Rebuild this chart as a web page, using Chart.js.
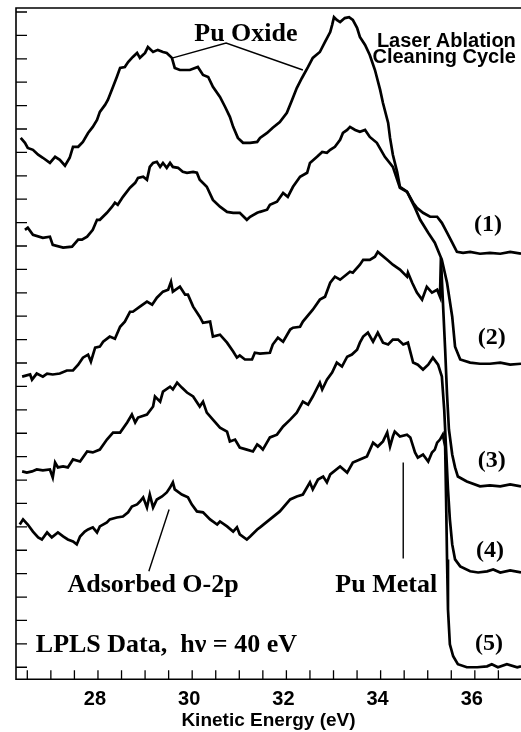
<!DOCTYPE html>
<html>
<head>
<meta charset="utf-8">
<script src="https://cdn.jsdelivr.net/npm/chart.js@4.4.1/dist/chart.umd.min.js"></script>
<style>
  html, body { margin: 0; padding: 0; background: #fff; }
</style>
</head>
<body>
<canvas id="chart" width="521" height="732"></canvas>
<script>
/* LPLS valence band spectra, Pu laser ablation cleaning cycles 1-5 */

// ── Data (kinetic energy in eV, intensity in arb. offset units) ──
const energy1 = [26.36,26.45,26.51,26.62,26.73,26.83,26.98,27.09,27.19,27.30,27.40,27.47,27.58,27.68,27.79,27.89,27.98,28.04,28.15,28.21,28.32,28.40,28.47,28.57,28.64,28.74,28.83,28.89,29.00,29.06,29.17,29.27,29.38,29.46,29.57,29.63,29.74,29.95,30.12,30.23,30.34,30.44,30.59,30.70,30.80,30.87,30.97,31.08,31.23,31.38,31.44,31.59,31.71,31.86,32.01,32.12,32.22,32.33,32.46,32.56,32.71,32.82,32.93,32.97,33.01,33.07,33.14,33.24,33.33,33.41,33.50,33.56,33.67,33.77,33.88,33.99,34.05,34.16,34.20,34.26,34.35,34.41,34.56,34.69,34.77,34.90,35.05,35.20,35.30,35.41,35.52,35.62,35.75,35.90,36.11,36.32,36.54,36.75,36.98];
const cycle1  = [22.62,22.41,22.19,22.11,21.90,21.77,21.55,21.81,21.68,21.43,21.77,22.24,22.24,22.45,22.83,23.09,23.39,23.73,24.03,24.24,24.80,25.22,25.61,25.65,25.86,26.08,26.25,26.04,26.25,26.50,26.29,26.38,26.29,26.25,26.04,25.61,25.52,25.52,25.65,25.31,25.22,24.80,24.37,23.94,23.52,23.09,22.62,22.41,22.41,22.45,22.62,22.83,23.05,23.30,23.69,24.24,24.75,25.18,25.65,26.04,26.29,26.72,27.14,27.44,27.78,27.66,27.57,27.74,27.78,27.66,27.32,26.93,26.59,26.16,25.52,24.67,24.11,23.26,22.62,21.90,21.17,20.53,20.32,19.85,19.63,19.42,19.25,19.25,18.99,18.57,18.14,17.75,17.71,17.75,17.67,17.71,17.67,17.75,17.67];

const energy2 = [26.45,26.51,26.62,26.83,26.98,27.04,27.26,27.45,27.58,27.66,27.77,27.89,27.98,28.04,28.19,28.30,28.36,28.42,28.53,28.68,28.79,28.85,28.96,29.04,29.10,29.17,29.25,29.32,29.38,29.46,29.53,29.59,29.70,29.80,29.89,30.02,30.10,30.16,30.31,30.44,30.59,30.74,30.87,31.01,31.16,31.23,31.38,31.44,31.59,31.65,31.80,31.93,32.03,32.14,32.29,32.44,32.50,32.65,32.76,32.86,32.93,33.03,33.14,33.20,33.29,33.35,33.46,33.56,33.67,33.77,33.92,34.09,34.26,34.41,34.56,34.73,34.84,35.01,35.15,35.30,35.41,35.52,35.58,35.69,35.90,36.11,36.32,36.54,36.75,36.98];
const cycle2  = [18.69,18.78,18.48,18.35,18.40,18.05,17.93,17.97,18.27,18.27,18.40,18.69,19.12,19.12,19.42,19.68,19.85,19.76,20.10,20.49,20.70,20.91,20.96,20.83,21.38,21.55,21.60,21.38,21.55,21.34,21.55,21.38,21.34,21.17,21.13,21.17,21.13,20.83,20.53,19.97,19.68,19.46,19.42,19.42,19.12,19.25,19.42,19.46,19.55,19.76,19.89,20.27,20.10,20.53,20.96,21.13,21.55,21.81,22.02,21.98,22.11,22.24,22.54,22.83,22.96,23.09,22.96,22.88,22.96,22.66,22.41,21.81,21.38,20.49,20.32,19.63,19.12,18.57,18.14,17.41,16.43,14.98,13.70,13.15,13.02,12.97,12.97,13.02,12.93,12.97];

const energy3 = [26.39,26.56,26.60,26.70,26.83,26.92,27.04,27.19,27.34,27.47,27.58,27.68,27.79,27.85,27.94,28.04,28.11,28.25,28.36,28.47,28.57,28.68,28.74,28.89,29.04,29.15,29.25,29.38,29.49,29.55,29.59,29.74,29.85,29.91,30.02,30.16,30.23,30.38,30.44,30.59,30.74,30.87,30.95,31.01,31.12,31.27,31.33,31.44,31.65,31.71,31.82,31.93,32.08,32.14,32.29,32.35,32.56,32.71,32.82,32.93,33.03,33.14,33.35,33.41,33.56,33.63,33.77,33.88,33.94,34.14,34.26,34.41,34.56,34.58,34.67,34.77,34.88,34.98,35.09,35.20,35.26,35.28,35.32,35.37,35.41,35.45,35.52,35.58,35.64,35.83,36.11,36.32,36.54,36.75,36.98];
const cycle3  = [12.42,12.51,12.29,12.55,12.42,12.55,12.51,12.55,12.68,12.68,12.93,13.23,13.36,13.06,13.66,13.70,13.91,14.13,14.04,14.55,14.77,15.19,15.19,15.41,15.62,15.49,15.79,16.05,16.13,16.47,16.05,16.26,15.92,15.92,15.41,14.98,14.72,14.77,14.13,14.21,13.87,13.49,13.23,13.32,13.15,13.15,13.44,13.40,13.44,13.79,14.08,13.91,14.43,14.51,14.55,14.77,15.28,15.71,15.83,16.43,16.69,16.56,16.90,16.86,17.20,17.41,17.41,17.54,17.75,17.41,17.20,16.99,16.69,16.86,16.43,16.01,15.71,16.26,16.01,16.13,15.83,17.50,15.71,13.57,11.65,10.16,9.09,8.54,8.15,7.94,7.73,7.77,7.73,7.81,7.73];

const energy4 = [26.39,26.49,26.60,26.70,26.83,26.98,27.04,27.09,27.15,27.26,27.36,27.47,27.62,27.77,27.89,28.04,28.19,28.32,28.47,28.62,28.72,28.79,28.85,29.04,29.17,29.21,29.32,29.38,29.53,29.59,29.68,29.78,29.89,30.02,30.16,30.23,30.31,30.44,30.59,30.74,30.80,30.91,31.01,31.16,31.29,31.38,31.44,31.50,31.65,31.80,31.93,32.08,32.22,32.35,32.46,32.56,32.71,32.76,32.86,32.97,33.07,33.18,33.29,33.39,33.50,33.56,33.63,33.73,33.84,33.94,34.05,34.16,34.26,34.37,34.48,34.58,34.69,34.79,34.90,35.01,35.11,35.22,35.30,35.35,35.39,35.43,35.47,35.52,35.58,35.69,35.90,36.07,36.26,36.39,36.54,36.75,36.98];
const cycle4  = [8.37,8.32,8.37,8.45,8.41,8.45,8.11,8.75,8.54,8.58,8.54,8.88,8.79,9.22,9.18,9.30,9.73,10.03,10.03,10.46,10.80,10.46,10.67,10.80,11.14,11.57,11.35,11.78,11.99,11.87,12.16,11.95,11.74,11.57,11.14,11.35,10.88,10.58,10.24,10.07,9.65,9.73,9.39,9.30,9.22,9.52,9.43,9.30,9.82,9.94,10.29,10.58,10.88,11.35,11.22,11.57,12.16,11.87,12.29,12.59,13.02,12.85,13.27,13.36,13.57,13.87,14.13,14.30,13.91,14.30,13.87,13.79,14.00,14.00,13.79,13.87,13.02,12.93,12.72,12.93,13.23,12.93,12.42,11.01,9.30,7.60,6.32,5.25,4.61,4.31,4.10,4.05,4.10,4.18,4.05,4.14,4.05];

const energy5 = [26.34,26.41,26.51,26.62,26.73,26.81,26.92,27.02,27.15,27.26,27.36,27.47,27.55,27.62,27.72,27.79,27.89,27.98,28.04,28.19,28.25,28.40,28.53,28.64,28.72,28.83,28.89,28.96,29.04,29.10,29.17,29.25,29.36,29.46,29.53,29.59,29.63,29.78,29.91,29.99,30.10,30.23,30.38,30.53,30.59,30.74,30.87,30.95,31.01,31.16,31.23,31.38,31.44,31.65,31.86,32.08,32.22,32.35,32.50,32.56,32.67,32.78,32.86,32.93,33.14,33.29,33.41,33.56,33.71,33.84,33.94,34.05,34.14,34.20,34.26,34.30,34.41,34.56,34.63,34.73,34.79,34.90,35.01,35.09,35.15,35.20,35.26,35.32,35.37,35.39,35.41,35.43,35.47,35.54,35.64,35.83,36.05,36.26,36.36,36.49,36.68,36.90,36.98];
const cycle5  = [6.10,6.32,6.10,5.80,5.55,5.46,5.76,5.55,5.76,5.59,5.46,5.38,5.25,5.59,5.80,5.89,5.98,5.76,6.02,6.19,6.32,6.40,6.44,6.62,6.87,6.96,7.08,7.26,6.83,7.38,6.83,7.17,7.30,7.47,7.68,7.90,7.60,7.38,7.26,6.96,6.66,6.62,6.32,6.10,6.23,6.02,5.80,5.98,5.68,5.46,5.59,5.89,5.98,6.32,6.66,7.17,7.30,7.38,7.90,7.60,8.02,8.15,7.90,8.24,8.58,8.32,8.75,8.88,9.01,9.60,9.43,9.65,10.03,9.43,9.86,10.07,9.86,9.94,9.82,9.18,8.96,9.09,8.79,9.18,9.30,9.60,9.73,9.94,9.43,7.17,4.61,2.48,0.98,0.47,0.13,0.00,0.00,0.04,0.13,0.00,0.13,0.00,0.04];

const xTicks  = [26.5,27,27.5,28,28.5,29,29.5,30,30.5,31,31.5,32,32.5,33,33.5,34,34.5,35,35.5,36,36.5];
const xLabels = [28, 30, 32, 34, 36];
const yTicks  = [0,1,2,3,4,5,6,7,8,9,10,11,12,13,14,15,16,17,18,19,20,21,22,23,24,25,26,27,28];

// ── Annotations (anchored in data coordinates) ──
const SERIF = '"Liberation Serif", "Times New Roman", serif';
const SANS  = '"Liberation Sans", Arial, sans-serif';

const notes = [
  { text: 'Pu Oxide',        e: 31.14, v: 26.76, font: `bold 26px ${SERIF}`, align: 'center', base: 'alphabetic' },
  { text: 'Laser Ablation',  e: 36.87, v: 26.50, font: `bold 20px ${SANS}`,  align: 'right',  base: 'alphabetic' },
  { text: 'Cleaning Cycle',  e: 36.87, v: 25.82, font: `bold 20px ${SANS}`,  align: 'right',  base: 'alphabetic' },
  { text: '(1)',             e: 36.28, v: 18.91, font: `bold 24px ${SERIF}`, align: 'center', base: 'middle' },
  { text: '(2)',             e: 36.36, v: 14.08, font: `bold 24px ${SERIF}`, align: 'center', base: 'middle' },
  { text: '(3)',             e: 36.36, v: 8.83,  font: `bold 24px ${SERIF}`, align: 'center', base: 'middle' },
  { text: '(4)',             e: 36.32, v: 4.99,  font: `bold 24px ${SERIF}`, align: 'center', base: 'middle' },
  { text: '(5)',             e: 36.30, v: 1.02,  font: `bold 24px ${SERIF}`, align: 'center', base: 'middle' },
  { text: 'Adsorbed O-2p',   e: 29.17, v: 3.20,  font: `bold 26px ${SERIF}`, align: 'center', base: 'alphabetic' },
  { text: 'Pu Metal',        e: 34.12, v: 3.20,  font: `bold 26px ${SERIF}`, align: 'center', base: 'alphabetic' },
  { text: 'LPLS Data,  h\u03BD = 40 eV', e: 26.68, v: 0.64, font: `bold 26px ${SERIF}`, align: 'left', base: 'alphabetic' },
];

const pointers = [
  [[29.59, 26.04], [30.72, 26.67], [32.35, 25.52]],
  [[29.51, 6.74], [29.08, 4.10]],
  [[34.48, 8.75], [34.48, 4.65]],
];

// ── Frame, inside ticks and annotations ──
const framePlugin = {
  id: 'frame',
  afterDraw(chart) {
    const { ctx, chartArea: a, scales: { x, y } } = chart;
    ctx.save();
    ctx.strokeStyle = '#000';
    ctx.lineWidth = 1.6;
    ctx.beginPath();
    ctx.moveTo(a.right, a.top);
    ctx.lineTo(a.left, a.top);
    ctx.lineTo(a.left, a.bottom);
    ctx.lineTo(a.right, a.bottom);
    ctx.stroke();

    ctx.lineWidth = 1.3;
    ctx.beginPath();
    x.ticks.forEach(t => {
      const px = x.getPixelForValue(t.value);
      ctx.moveTo(px, a.bottom);
      ctx.lineTo(px, a.bottom - 9);
    });
    y.ticks.forEach(t => {
      const py = y.getPixelForValue(t.value);
      ctx.moveTo(a.left, py);
      ctx.lineTo(a.left + 11, py);
    });
    ctx.stroke();

    ctx.lineWidth = 1.4;
    pointers.forEach(p => {
      ctx.beginPath();
      p.forEach(([e, v], i) => {
        const px = x.getPixelForValue(e), py = y.getPixelForValue(v);
        i ? ctx.lineTo(px, py) : ctx.moveTo(px, py);
      });
      ctx.stroke();
    });

    ctx.fillStyle = '#000';
    notes.forEach(n => {
      ctx.font = n.font;
      ctx.textAlign = n.align;
      ctx.textBaseline = n.base;
      ctx.fillText(n.text, x.getPixelForValue(n.e), y.getPixelForValue(n.v));
    });
    ctx.restore();
  }
};

const series = [[energy1, cycle1], [energy2, cycle2], [energy3, cycle3], [energy4, cycle4], [energy5, cycle5]];

new Chart(document.getElementById('chart'), {
  type: 'line',
  data: {
    datasets: series.map(([es, vs], i) => ({
      label: `Cycle ${i + 1}`,
      data: es.map((e, j) => ({ x: e, y: vs[j] })),
      borderColor: '#000',
      borderWidth: 2.7,
      pointRadius: 0,
      tension: 0,
      fill: false,
    })),
  },
  options: {
    responsive: false,
    animation: false,
    layout: { padding: { left: 16, top: 8, right: 0, bottom: 0 } },
    plugins: {
      legend: { display: false },
      tooltip: { enabled: false },
    },
    scales: {
      x: {
        type: 'linear',
        min: 26.26,
        max: 36.98,
        afterBuildTicks: s => { s.ticks = xTicks.map(v => ({ value: v })); },
        grid: { display: false, drawTicks: false },
        border: { display: false },
        ticks: {
          autoSkip: false,
          maxRotation: 0,
          padding: 8,
          labelOffset: -3,
          color: '#000',
          font: { family: SANS, weight: 'bold', size: 20 },
          callback: v => xLabels.includes(v) ? String(v) : '',
        },
        title: {
          display: true,
          text: 'Kinetic Energy (eV)',
          color: '#000',
          font: { family: SANS, weight: 'bold', size: 19 },
          padding: { top: -10, bottom: 0 },
        },
      },
      y: {
        type: 'linear',
        min: -0.51,
        max: 28.17,
        afterBuildTicks: s => { s.ticks = yTicks.map(v => ({ value: v })); },
        grid: { display: false, drawTicks: false },
        border: { display: false },
        ticks: { display: false },
      },
    },
  },
  plugins: [framePlugin],
});
</script>
</body>
</html>
